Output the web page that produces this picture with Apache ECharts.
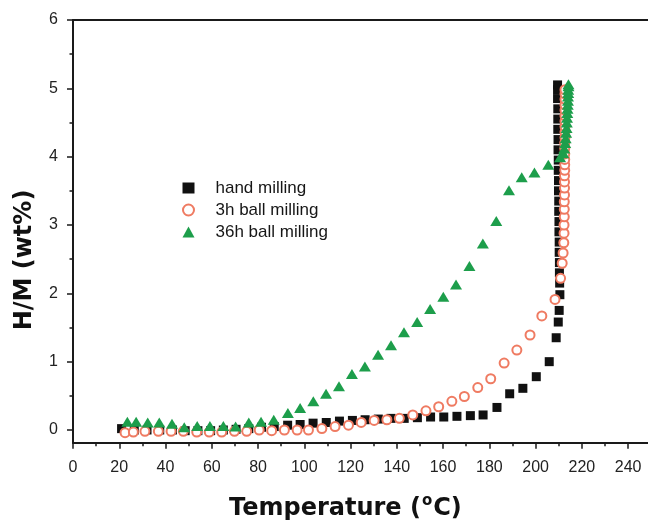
<!DOCTYPE html>
<html>
<head>
<meta charset="utf-8">
<script src="https://cdn.jsdelivr.net/npm/echarts@6/dist/echarts.min.js"></script>
<style>
  html, body { margin: 0; padding: 0; background: #fff; }
  #chart { width: 648px; height: 520px; }
</style>
</head>
<body>
<div id="chart"></div>
<script>
// Hydrogen release (H/M, wt%) versus temperature for three milling treatments

const seriesNames = ['hand milling', '3h ball milling', '36h ball milling'];

// hand milling: temperature (°C) and H/M (wt%)
const handT = [21, 26.5, 32, 37.5, 43, 48.5, 54, 59.5, 65, 70.5, 76, 81.5, 87, 92.8, 98.2,
  103.8, 109.5, 115.2, 120.8, 126.3, 132, 137.5, 143.2, 148.9, 154.6, 160.3, 166, 171.8, 177.3,
  183.3, 188.8, 194.5, 200.3, 205.9, 208.9, 209.8, 210.2, 210.5,
  210.4, 210.3, 210.3, 210.2, 210.2, 210.1, 210.1, 210.0, 210.0, 209.9, 209.9, 209.8, 209.8,
  209.7, 209.7, 209.6, 209.6, 209.6, 209.5, 209.5, 209.5];
const handH = [0.02, 0.0, 0.0, 0.0, 0.0, -0.01, -0.01, -0.01, 0.0, 0.01, 0.02, 0.04, 0.05, 0.07, 0.08,
  0.10, 0.11, 0.13, 0.14, 0.15, 0.16, 0.17, 0.17, 0.18, 0.19, 0.19, 0.20, 0.21, 0.22,
  0.33, 0.53, 0.61, 0.78, 1.00, 1.35, 1.58, 1.75, 1.98,
  2.15, 2.30, 2.45, 2.60, 2.75, 2.90, 3.05, 3.20, 3.35, 3.50, 3.65, 3.80, 3.95,
  4.10, 4.25, 4.40, 4.55, 4.70, 4.85, 4.98, 5.05];

// 3h ball milling
const ball3T = [22.5, 26.1, 31.1, 36.9, 42.4, 47.7, 53.5, 58.9, 64.3, 69.8, 75.1, 80.5, 85.9, 91.4, 96.9,
  101.8, 107.6, 113.3, 119.1, 124.6, 130.2, 135.7, 141.1, 146.9, 152.6, 158.1, 163.8, 169.2, 175,
  180.6, 186.4, 191.9, 197.6, 202.7, 208.4, 210.8, 211.5, 211.9, 212.2,
  212.3, 212.3, 212.4, 212.4, 212.4, 212.5, 212.5, 212.5, 212.5, 212.6, 212.6, 212.6, 212.6,
  212.6, 212.6, 212.7, 212.7, 212.7, 212.7, 212.7, 212.7, 212.7, 212.7, 212.7, 212.7];
const ball3H = [-0.04, -0.03, -0.02, -0.02, -0.02, -0.02, -0.03, -0.03, -0.03, -0.02, -0.02, 0.0, -0.01, 0.0, 0.0,
  0.0, 0.02, 0.05, 0.07, 0.11, 0.14, 0.15, 0.17, 0.22, 0.28, 0.34, 0.42, 0.49, 0.62,
  0.75, 0.98, 1.17, 1.39, 1.67, 1.91, 2.22, 2.44, 2.59, 2.74,
  2.88, 3.00, 3.12, 3.23, 3.34, 3.44, 3.54, 3.63, 3.72, 3.80, 3.88, 3.96, 4.04,
  4.12, 4.20, 4.28, 4.36, 4.44, 4.52, 4.60, 4.68, 4.76, 4.84, 4.92, 4.98];

// 36h ball milling
const ball36T = [23.5, 27.3, 32.3, 37.3, 42.8, 48.1, 53.7, 59.2, 65, 70.3, 76, 81.3, 86.8, 92.9, 98.2,
  103.9, 109.4, 115, 120.6, 126.2, 131.9, 137.5, 143.1, 148.8, 154.4, 160.1, 165.6, 171.4, 177.2,
  183, 188.5, 194, 199.5, 205.5, 210.6,
  212.0, 212.4, 212.8, 213.0, 213.2, 213.4, 213.5, 213.6, 213.7, 213.8, 213.9, 214.0, 214.0,
  214.1, 214.1, 214.2, 214.2];
const ball36H = [0.12, 0.12, 0.11, 0.11, 0.09, 0.04, 0.06, 0.06, 0.06, 0.05, 0.11, 0.12, 0.15, 0.25, 0.32,
  0.42, 0.53, 0.64, 0.82, 0.93, 1.10, 1.24, 1.43, 1.58, 1.77, 1.95, 2.13, 2.40, 2.73,
  3.06, 3.51, 3.70, 3.77, 3.88, 3.99,
  4.05, 4.12, 4.20, 4.27, 4.35, 4.42, 4.50, 4.57, 4.64, 4.70, 4.76, 4.82, 4.88,
  4.93, 4.98, 5.03, 5.06];

// axis ticks and labels
const xMajor = [0, 20, 40, 60, 80, 100, 120, 140, 160, 180, 200, 220, 240];
const xMinor = [10, 30, 50, 70, 90, 110, 130, 150, 170, 190, 210, 230];
const yMajor = [0, 1, 2, 3, 4, 5, 6];
const yMinor = [0.5, 1.5, 2.5, 3.5, 4.5, 5.5];

const pairs = (xs, ys) => xs.map((x, i) => [x, ys[i]]);

const X_MIN = 0, X_MAX = 248.6, Y_MIN = -0.186, Y_MAX = 6;
const INK = '#1a1a1a';
const tickFont = { fontFamily: 'Liberation Sans, Arial, sans-serif', fontSize: 16, color: '#222' };

const chart = echarts.init(document.getElementById('chart'), null, { renderer: 'canvas' });

chart.setOption({
  animation: false,
  backgroundColor: '#ffffff',
  grid: { left: 73, top: 20, right: 0, bottom: 77.3, containLabel: false },
  xAxis: [
    { // main temperature axis with labels and major ticks
      type: 'value', min: X_MIN, max: X_MAX, position: 'bottom',
      axisLine: { show: true, onZero: false, lineStyle: { color: INK, width: 2 } },
      axisTick: { show: true, inside: false, length: 6, customValues: xMajor, lineStyle: { color: INK, width: 1.5 } },
      axisLabel: { show: true, margin: 17, customValues: xMajor, ...tickFont },
      splitLine: { show: false }
    },
    { // minor ticks
      type: 'value', min: X_MIN, max: X_MAX, position: 'bottom',
      axisLine: { show: false, onZero: false },
      axisTick: { show: true, inside: false, length: 3.5, customValues: xMinor, lineStyle: { color: INK, width: 1.5 } },
      axisLabel: { show: false },
      splitLine: { show: false }
    },
    { // top frame line
      type: 'value', min: X_MIN, max: X_MAX, position: 'top',
      axisLine: { show: true, onZero: false, lineStyle: { color: INK, width: 2 } },
      axisTick: { show: false }, axisLabel: { show: false }, splitLine: { show: false }
    }
  ],
  yAxis: [
    {
      type: 'value', min: Y_MIN, max: Y_MAX, position: 'left',
      axisLine: { show: true, onZero: false, lineStyle: { color: INK, width: 2 } },
      axisTick: { show: true, inside: false, length: 6, customValues: yMajor, lineStyle: { color: INK, width: 1.5 } },
      axisLabel: { show: true, margin: 15, customValues: yMajor, ...tickFont },
      splitLine: { show: false }
    },
    {
      type: 'value', min: Y_MIN, max: Y_MAX, position: 'left',
      axisLine: { show: false, onZero: false },
      axisTick: { show: true, inside: false, length: 3.5, customValues: yMinor, lineStyle: { color: INK, width: 1.5 } },
      axisLabel: { show: false },
      splitLine: { show: false }
    }
  ],
  legend: {
    orient: 'vertical',
    left: 177, top: 174,
    itemWidth: 12, itemHeight: 11, itemGap: 4,
    data: [
      { name: seriesNames[0], itemStyle: { color: '#111111' } },
      { name: seriesNames[1] },
      { name: seriesNames[2] }
    ],
    textStyle: { fontFamily: 'Liberation Sans, Arial, sans-serif', fontSize: 17, color: '#161616', lineHeight: 18, padding: [0, 0, 0, 16] }
  },
  graphic: [
    {
      type: 'text', left: 229, top: 494,
      style: {
        text: '{t|Temperature (}{s|o}{t|C)}',
        rich: {
          t: { fontFamily: 'DejaVu Sans', fontWeight: 'bold', fontSize: 24, lineHeight: 27, fill: '#111', verticalAlign: 'bottom' },
          s: { fontFamily: 'DejaVu Sans', fontWeight: 'bold', fontSize: 15, lineHeight: 15, fill: '#111', verticalAlign: 'top', padding: [0, 1, 12, 1] }
        }
      }
    },
    {
      type: 'text', x: 13, y: 260, rotation: Math.PI / 2,
      style: {
        text: 'H/M (wt%)', align: 'center', verticalAlign: 'top',
        fontFamily: 'DejaVu Sans', fontWeight: 'bold', fontSize: 24, fill: '#111'
      }
    }
  ],
  series: [
    {
      name: seriesNames[0], type: 'scatter', xAxisIndex: 0, yAxisIndex: 0,
      symbol: 'rect', symbolSize: 9,
      itemStyle: { color: '#111111', opacity: 1 },
      data: pairs(handT, handH), z: 2
    },
    {
      name: seriesNames[1], type: 'scatter', xAxisIndex: 0, yAxisIndex: 0,
      symbol: 'emptyCircle', symbolSize: 9,
      itemStyle: { color: '#ef7b62', borderColor: '#ef7b62', borderWidth: 1.5, opacity: 1 },
      data: pairs(ball3T, ball3H), z: 3
    },
    {
      name: seriesNames[2], type: 'scatter', xAxisIndex: 0, yAxisIndex: 0,
      symbol: 'triangle', symbolSize: [12, 10],
      itemStyle: { color: '#1d9e4b', opacity: 1 },
      data: pairs(ball36T, ball36H), z: 4
    }
  ]
});
</script>
</body>
</html>
